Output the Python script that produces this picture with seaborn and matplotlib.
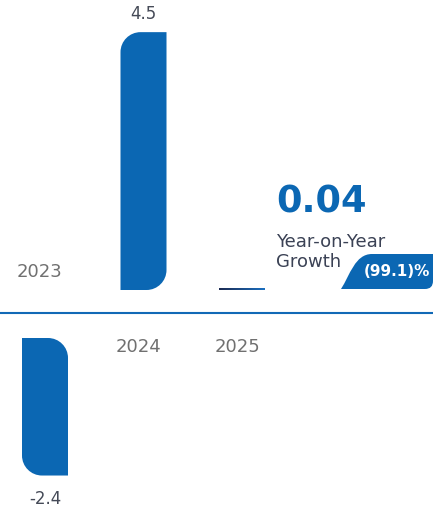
import numpy as np
import pandas as pd
import matplotlib
matplotlib.use("Agg")
import matplotlib.pyplot as plt
import matplotlib.transforms as mtransforms
from matplotlib.path import Path
from matplotlib.patches import PathPatch
from matplotlib.colors import LinearSegmentedColormap
import seaborn as sns

# Data
years = ["2023", "2024", "2025"]
values = [-2.4, 4.5, 0.04]
yoy_growth = -99.1
growth_label = "Year-on-Year\nGrowth"

BLUE = "#0b67b3"
NAVY = "#1c2a52"
GREY = "#707070"
DARK = "#454a57"
SLATE = "#3b4255"

W, H = 433, 508
sns.set_theme(style="white")
plt.rcParams["font.family"] = ["DejaVu Sans"]

fig = plt.figure(figsize=(W / 100, H / 100), dpi=100)
ax = fig.add_axes([0, 0, 1, 1])

df = pd.DataFrame({"year": years, "value": values})
sns.barplot(data=df, x="year", y="value", color=BLUE, width=0.467,
            saturation=1, ax=ax)

# pixel layout of the axes: category spacing and value scale
x_step, y_scale = 98.5, 57.3
x_first, y_axis = 45.0, 313.0


def set_limits():
    ax.set_xlim((0 - x_first) / x_step, (W - x_first) / x_step)
    ax.set_ylim((y_axis - H) / y_scale, y_axis / y_scale)


set_limits()
ax.set_axis_off()

# transform for coordinates given in pixels from the top-left corner
px = mtransforms.Affine2D().scale(1 / W, -1 / H).translate(0, 1) + fig.transFigure

gap_pos, gap_neg = 23 / y_scale, 25 / y_scale
rx, ry = 20 / x_step, 20 / y_scale
k = 0.5523


def bar_path(x0, x1, y0, y1, s):
    """Bar with the axis-side right corner and far-end left corner rounded."""
    verts = [
        (x0, y0), (x1 - rx, y0),
        (x1 - rx + k * rx, y0), (x1, y0 + s * ry * (1 - k)), (x1, y0 + s * ry),
        (x1, y1), (x0 + rx, y1),
        (x0 + rx - k * rx, y1), (x0, y1 - s * ry * (1 - k)), (x0, y1 - s * ry),
        (x0, y0),
    ]
    codes = [Path.MOVETO, Path.LINETO,
             Path.CURVE4, Path.CURVE4, Path.CURVE4,
             Path.LINETO, Path.LINETO,
             Path.CURVE4, Path.CURVE4, Path.CURVE4,
             Path.CLOSEPOLY]
    return Path(verts, codes)


def year_label(text, xc, above):
    ax.annotate(text, (xc, 0), xytext=(-5, 41 if above else -34),
                textcoords="offset pixels", ha="center", va="center",
                fontsize=13, color=GREY)


grad = LinearSegmentedColormap.from_list("g", [NAVY, "#1a6fc0"])
bars = list(ax.patches)
for i, (bar, v) in enumerate(zip(bars, values)):
    bar.set_visible(False)
    x0 = bar.get_x()
    x1 = x0 + bar.get_width()
    xc = (x0 + x1) / 2
    s = 1 if v >= 0 else -1
    y0 = gap_pos if s > 0 else -gap_neg
    y1 = y0 + v
    if abs(v) < 2 * ry:
        # too short to round: thin line with a colour gradient
        patch = PathPatch(Path([(x0, y0), (x1, y0), (x1, y1), (x0, y1), (x0, y0)],
                               [Path.MOVETO, Path.LINETO, Path.LINETO, Path.LINETO, Path.CLOSEPOLY]),
                          facecolor="none", edgecolor="none")
        ax.add_patch(patch)
        im = ax.imshow(np.linspace(0, 1, 64)[None, :], cmap=grad, aspect="auto",
                       extent=(x0, x1, y0 - 0.004, y1 + 0.004), zorder=3)
        im.set_clip_path(patch)
        year_label(years[i], xc, above=s < 0)
        continue
    ax.add_patch(PathPatch(bar_path(x0, x1, y0, y1, s), facecolor=BLUE,
                           edgecolor="none", zorder=3))
    ax.annotate(f"{v:.1f}", (xc, y1), xytext=(0, 18 if s > 0 else -23),
                textcoords="offset pixels", ha="center", va="center",
                fontsize=12, color=DARK)
    year_label(years[i], xc, above=s < 0)

set_limits()

# baseline
ax.axhline(0, color="#1169b6", linewidth=1.5, zorder=2)

# headline figure for the latest year
fig.text(276, 202, f"{values[-1]:.2f}", transform=px, ha="left", va="center",
         fontsize=26.5, fontweight="bold", color=BLUE)
line1, line2 = growth_label.split("\n")
fig.text(276, 247, line1, transform=px, ha="left", va="baseline",
         fontsize=13, color=SLATE)
fig.text(276, 267, line2, transform=px, ha="left", va="baseline",
         fontsize=13, color=SLATE)

# growth badge
badge = Path(
    [(341, 289), (350, 275), (355, 254), (372, 254), (433, 254),
     (433, 281), (433, 289), (425, 289), (341, 289)],
    [Path.MOVETO, Path.CURVE4, Path.CURVE4, Path.CURVE4, Path.LINETO,
     Path.LINETO, Path.CURVE3, Path.CURVE3, Path.CLOSEPOLY])
fig.patches.append(PathPatch(badge, transform=px, facecolor=BLUE,
                             edgecolor="none", figure=fig))
growth_txt = f"({abs(yoy_growth):.1f})%" if yoy_growth < 0 else f"{yoy_growth:.1f}%"
fig.text(397, 271, growth_txt, transform=px, ha="center", va="center",
         fontsize=11, fontweight="bold", color="white")

fig.savefig("out.png", dpi=100)
